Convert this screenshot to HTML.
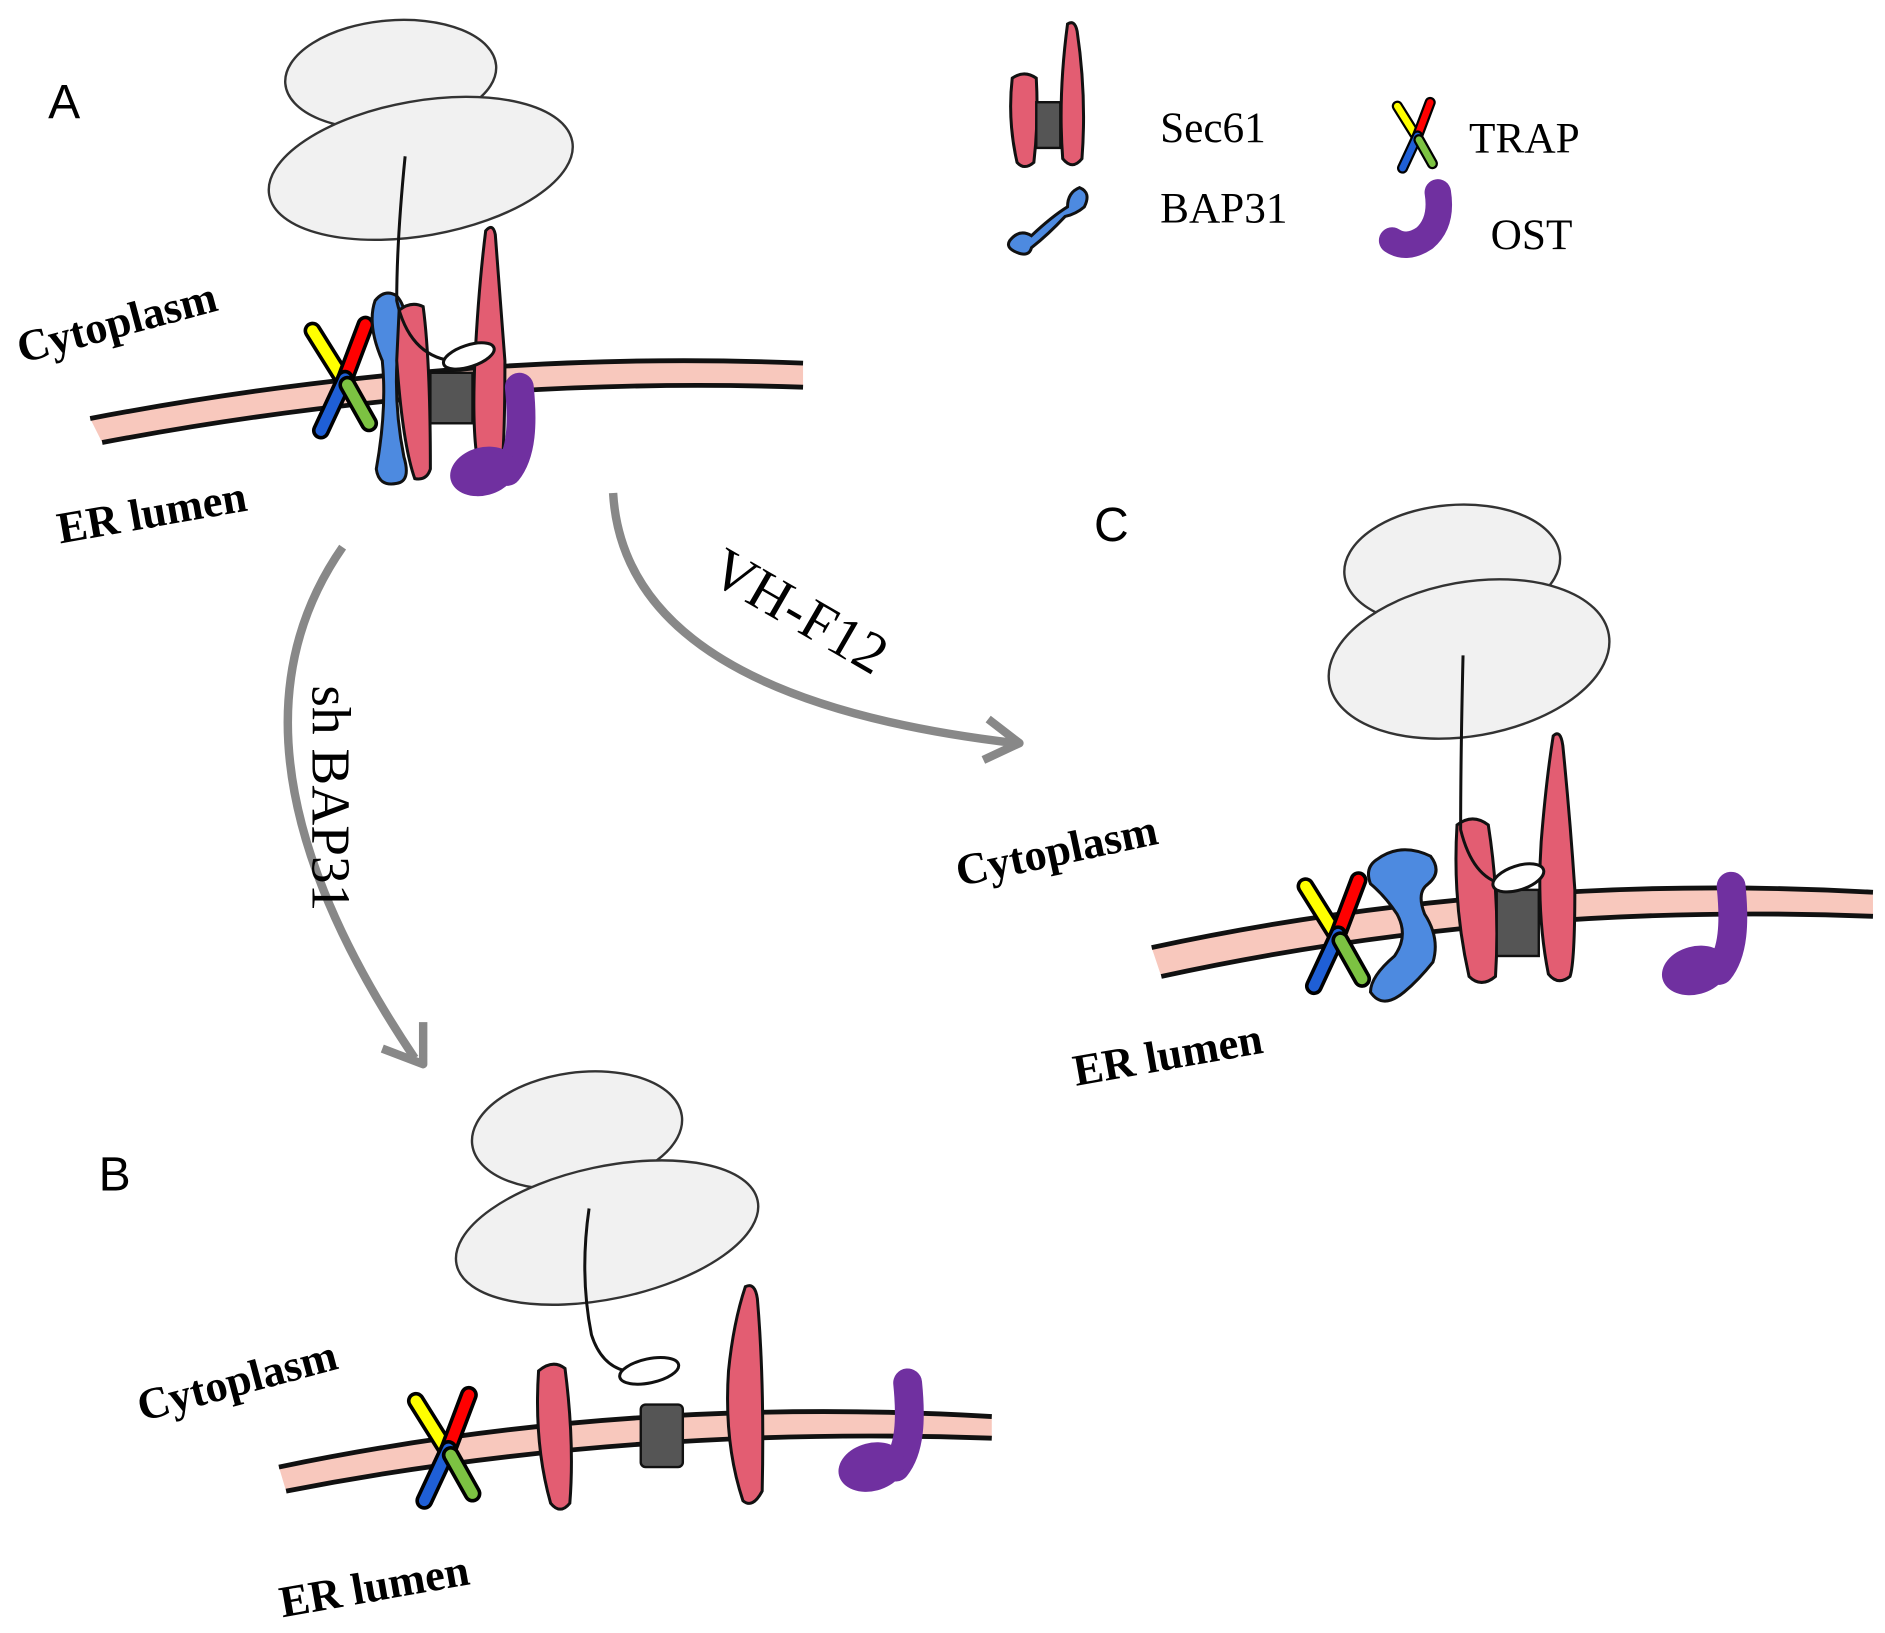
<!DOCTYPE html>
<html><head><meta charset="utf-8"><style>
html,body{margin:0;padding:0;background:#fff;}
svg{display:block;}
.t{font-family:"Liberation Serif",serif;}
.b{font-family:"Liberation Serif",serif;font-weight:bold;font-size:37px;}
.s{font-family:"Liberation Sans",sans-serif;font-size:40px;}
</style></head><body>
<svg width="1885" height="1633" viewBox="0 0 1568 1358" preserveAspectRatio="none" xmlns="http://www.w3.org/2000/svg">
<defs>
<g id="trap">
 <line x1="-22" y1="-35" x2="3" y2="5" stroke="#000" stroke-width="15" stroke-linecap="round"/>
 <line x1="-22" y1="-35" x2="3" y2="5" stroke="#ffff00" stroke-width="9" stroke-linecap="round"/>
 <line x1="22" y1="-40" x2="5" y2="5" stroke="#000" stroke-width="15" stroke-linecap="round"/>
 <line x1="22" y1="-40" x2="5" y2="5" stroke="#ff0000" stroke-width="9" stroke-linecap="round"/>
 <line x1="5" y1="5" x2="-15" y2="48" stroke="#000" stroke-width="15" stroke-linecap="round"/>
 <line x1="5" y1="5" x2="-15" y2="48" stroke="#1f5fd6" stroke-width="9" stroke-linecap="round"/>
 <line x1="7" y1="10" x2="25" y2="42" stroke="#000" stroke-width="15" stroke-linecap="round"/>
 <line x1="7" y1="10" x2="25" y2="42" stroke="#7cc242" stroke-width="9" stroke-linecap="round"/>
</g>
<g id="ost">
 <path d="M0 0 C3 30 2 55 -10 70" fill="none" stroke="#7030a0" stroke-width="24" stroke-linecap="round"/>
 <ellipse cx="-30" cy="70" rx="28" ry="20" transform="rotate(-15 -30 70)" fill="#7030a0"/>
</g>
</defs>

<!-- Panel A -->
<text x="40" y="98" class="s">A</text>
<ellipse cx="325" cy="62" rx="88" ry="45" transform="rotate(-5 325 62)" fill="#f1f1f1" stroke="#333" stroke-width="2"/>
<ellipse cx="350" cy="140" rx="128" ry="56" transform="rotate(-10 350 140)" fill="#f1f1f1" stroke="#333" stroke-width="2"/>
<path d="M75 348 Q380 290 668 302 L668 322 Q380 312 85 368 Z" fill="#f8c8bd"/>
<path d="M75 348 Q380 290 668 302" fill="none" stroke="#111" stroke-width="4"/>
<path d="M85 368 Q380 312 668 322" fill="none" stroke="#111" stroke-width="4"/>
<text class="b" transform="translate(18 302) rotate(-15)">Cytoplasm</text>
<text class="b" transform="translate(50 452) rotate(-10)">ER lumen</text>
<use href="#trap" x="282" y="310"/>
<path d="M312 250 Q320 240 330 246 Q342 260 332 280 Q326 330 336 380 Q342 400 330 402 Q315 405 313 390 Q322 340 318 300 Q305 270 312 250Z" fill="#4d8ae0" stroke="#111" stroke-width="2.5"/>
<path d="M332 258 Q342 250 352 255 Q358 300 358 390 Q355 400 345 398 Q335 370 330 300Z" fill="#e35d72" stroke="#111" stroke-width="2.5"/>
<path d="M404 192 Q410 185 412 195 Q416 250 420 300 Q420 380 416 398 Q408 405 400 395 Q392 370 395 300 Q398 240 404 192Z" fill="#e35d72" stroke="#111" stroke-width="2.5"/>
<rect x="358" y="310" width="35" height="42" fill="#555" stroke="#111" stroke-width="2"/>
<path d="M337 130 Q330 200 330 250 Q340 295 375 300" fill="none" stroke="#111" stroke-width="2.5"/>
<ellipse cx="390" cy="296" rx="22" ry="9" transform="rotate(-18 390 296)" fill="#fff" stroke="#111" stroke-width="2.5"/>
<use href="#ost" x="432" y="322"/>

<!-- Arrows -->
<path d="M285 455 Q170 620 345 880" fill="none" stroke="#888" stroke-width="7"/>
<path d="M318 872 L352 885 L352 850" fill="none" stroke="#888" stroke-width="7" stroke-linejoin="round"/>
<path d="M510 410 Q520 580 845 618" fill="none" stroke="#888" stroke-width="7"/>
<path d="M822 598 L848 618 L818 632" fill="none" stroke="#888" stroke-width="7" stroke-linejoin="round"/>
<text class="t" font-size="46" transform="translate(260 570) rotate(90)">sh BAP31</text>
<text class="t" font-size="48" transform="translate(588 482) rotate(30)">VH-F12</text>

<!-- Panel B -->
<text x="82" y="990" class="s">B</text>
<ellipse cx="480" cy="940" rx="88" ry="48" transform="rotate(-8 480 940)" fill="#f1f1f1" stroke="#333" stroke-width="2"/>
<ellipse cx="505" cy="1025" rx="128" ry="55" transform="rotate(-12 505 1025)" fill="#f1f1f1" stroke="#333" stroke-width="2"/>
<path d="M232 1220 Q520 1160 825 1178 L825 1196 Q520 1185 238 1240 Z" fill="#f8c8bd"/>
<path d="M232 1220 Q520 1160 825 1178" fill="none" stroke="#111" stroke-width="4"/>
<path d="M238 1240 Q520 1185 825 1196" fill="none" stroke="#111" stroke-width="4"/>
<text class="b" transform="translate(118 1182) rotate(-15)">Cytoplasm</text>
<text class="b" transform="translate(235 1345) rotate(-10)">ER lumen</text>
<use href="#trap" x="368" y="1200"/>
<path d="M448 1140 Q460 1130 470 1138 Q478 1200 474 1250 Q466 1260 458 1250 Q444 1200 448 1140Z" fill="#e35d72" stroke="#111" stroke-width="2.5"/>
<rect x="533" y="1168" width="35" height="52" rx="4" fill="#555" stroke="#111" stroke-width="2"/>
<path d="M620 1070 Q628 1066 630 1080 Q636 1150 634 1240 Q626 1255 618 1248 Q602 1200 606 1140 Q610 1100 620 1070Z" fill="#e35d72" stroke="#111" stroke-width="2.5"/>
<path d="M490 1005 Q482 1060 492 1110 Q500 1135 520 1140" fill="none" stroke="#111" stroke-width="2.5"/>
<ellipse cx="540" cy="1140" rx="25" ry="10" transform="rotate(-12 540 1140)" fill="#fff" stroke="#111" stroke-width="2.5"/>
<use href="#ost" x="755" y="1150"/>

<!-- Panel C -->
<text x="910" y="450" class="s">C</text>
<ellipse cx="1208" cy="470" rx="90" ry="50" transform="rotate(-5 1208 470)" fill="#f1f1f1" stroke="#333" stroke-width="2"/>
<ellipse cx="1222" cy="548" rx="118" ry="64" transform="rotate(-10 1222 548)" fill="#f1f1f1" stroke="#333" stroke-width="2"/>
<path d="M958 788 Q1250 725 1558 742 L1558 762 Q1250 750 966 812 Z" fill="#f8c8bd"/>
<path d="M958 788 Q1250 725 1558 742" fill="none" stroke="#111" stroke-width="4"/>
<path d="M966 812 Q1250 750 1558 762" fill="none" stroke="#111" stroke-width="4"/>
<text class="b" transform="translate(798 737) rotate(-12)">Cytoplasm</text>
<text class="b" transform="translate(895 903) rotate(-10)">ER lumen</text>
<use href="#trap" x="1108" y="772"/>
<path d="M1145 715 Q1165 700 1190 712 Q1200 725 1188 735 Q1178 742 1185 760 Q1198 780 1192 800 Q1180 815 1168 825 Q1150 840 1140 825 Q1140 812 1160 795 Q1172 778 1162 760 Q1152 745 1140 735 Q1135 722 1145 715Z" fill="#4d8ae0" stroke="#111" stroke-width="2.5"/>
<path d="M1212 686 Q1225 676 1238 686 Q1248 750 1244 812 Q1232 822 1222 812 Q1208 750 1212 686Z" fill="#e35d72" stroke="#111" stroke-width="2.5"/>
<rect x="1245" y="740" width="35" height="55" fill="#555" stroke="#111" stroke-width="2"/>
<path d="M1292 612 Q1298 606 1300 620 Q1306 680 1310 740 Q1310 800 1306 812 Q1296 820 1288 810 Q1278 760 1282 700 Q1286 650 1292 612Z" fill="#e35d72" stroke="#111" stroke-width="2.5"/>
<path d="M1217 545 Q1215 630 1215 690 Q1225 730 1250 735" fill="none" stroke="#111" stroke-width="2.5"/>
<ellipse cx="1263" cy="730" rx="22" ry="10" transform="rotate(-18 1263 730)" fill="#fff" stroke="#111" stroke-width="2.5"/>
<use href="#ost" x="1440" y="737"/>

<!-- Legend -->
<path d="M842 65 Q852 58 862 65 Q864 100 860 135 Q852 142 846 135 Q838 100 842 65Z" fill="#e35d72" stroke="#111" stroke-width="2.5"/>
<rect x="862" y="85" width="20" height="38" fill="#555" stroke="#111" stroke-width="2"/>
<path d="M888 20 Q894 16 896 26 Q904 80 900 132 Q892 142 884 132 Q880 80 888 20Z" fill="#e35d72" stroke="#111" stroke-width="2.5"/>
<text x="965" y="118" class="t" font-size="36">Sec61</text>
<path d="M840 200 Q848 190 858 196 Q875 180 888 172 Q888 160 898 156 Q908 160 902 172 Q895 178 886 180 Q872 195 858 206 Q856 214 846 210 Q836 206 840 200Z" fill="#4d8ae0" stroke="#111" stroke-width="2.5"/>
<text x="965" y="185" class="t" font-size="36">BAP31</text>
<g transform="translate(1176 110) scale(0.62)"><use href="#trap"/></g>
<text x="1222" y="127" class="t" font-size="36">TRAP</text>
<path d="M1196 160 Q1200 185 1185 198 Q1170 208 1158 200" fill="none" stroke="#7030a0" stroke-width="22" stroke-linecap="round"/>
<text x="1240" y="207" class="t" font-size="36">OST</text>
</svg>
</body></html>
